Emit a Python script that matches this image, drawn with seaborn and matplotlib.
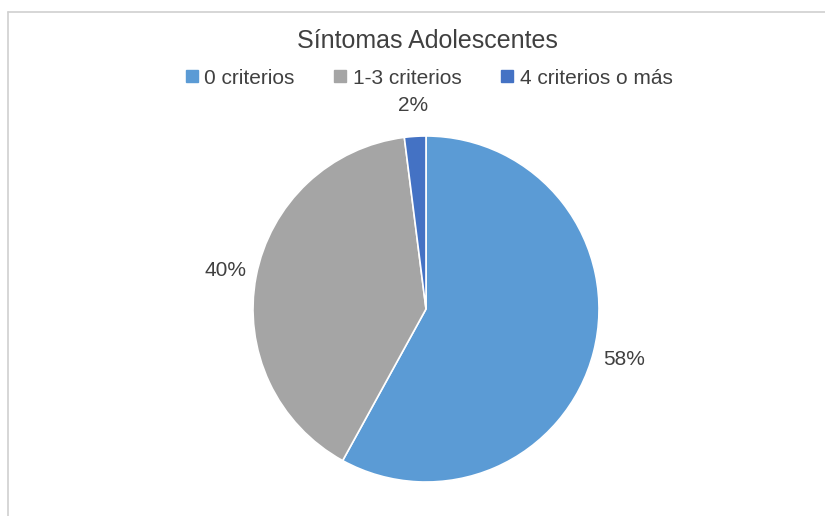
import matplotlib
matplotlib.use("Agg")
import matplotlib.pyplot as plt
import seaborn as sns
from matplotlib.lines import Line2D

# Data
categories = ["0 criterios", "1-3 criterios", "4 criterios o más"]
values = [58, 40, 2]
title = "Síntomas Adolescentes"

sns.set_theme(style="white")
plt.rcParams["font.family"] = ["Liberation Sans", "DejaVu Sans"]

colors = ["#5B9BD5", "#A5A5A5", "#4472C4"]
text_color = "#404040"

fig = plt.figure(figsize=(8.25, 5.16), dpi=100)
W, H = 825, 516
cx, cy, r = 426, 309, 173
ax = fig.add_axes([(cx - r) / W, (H - cy - r) / H, 2 * r / W, 2 * r / H])

wedges, texts, autotexts = ax.pie(
    values,
    colors=colors,
    startangle=90,
    counterclock=False,
    autopct=lambda p: f"{p:.0f}%",
    pctdistance=1.18,
    radius=1.0,
    wedgeprops=dict(edgecolor="white", linewidth=1.2),
    textprops=dict(color=text_color, fontsize=15),
)
ax.set_xlim(-1, 1)
ax.set_ylim(-1, 1)
ax.set_aspect("equal")
ax.axis("off")

fig.text(427 / W, 1 - 41 / H, title, ha="center", va="center",
         fontsize=18, color=text_color)

handles = [Line2D([0], [0], marker="s", linestyle="none", markersize=8,
                  markerfacecolor=c, markeredgecolor=c) for c in colors]
fig.legend(handles, categories, loc="center", bbox_to_anchor=(428 / W, 1 - 78 / H),
           ncol=3, frameon=False, fontsize=15, labelcolor=text_color,
           handletextpad=0.2, columnspacing=1.8, handlelength=0.8)

# chart area frame (top and left edges visible)
fig.add_artist(Line2D([8 / W, 8 / W], [0, 1 - 12 / H], transform=fig.transFigure,
                      color="#D0D0D0", linewidth=1.2))
fig.add_artist(Line2D([8 / W, 1], [1 - 12 / H, 1 - 12 / H], transform=fig.transFigure,
                      color="#D0D0D0", linewidth=1.2))

fig.savefig("out.png", dpi=100, facecolor="white")
